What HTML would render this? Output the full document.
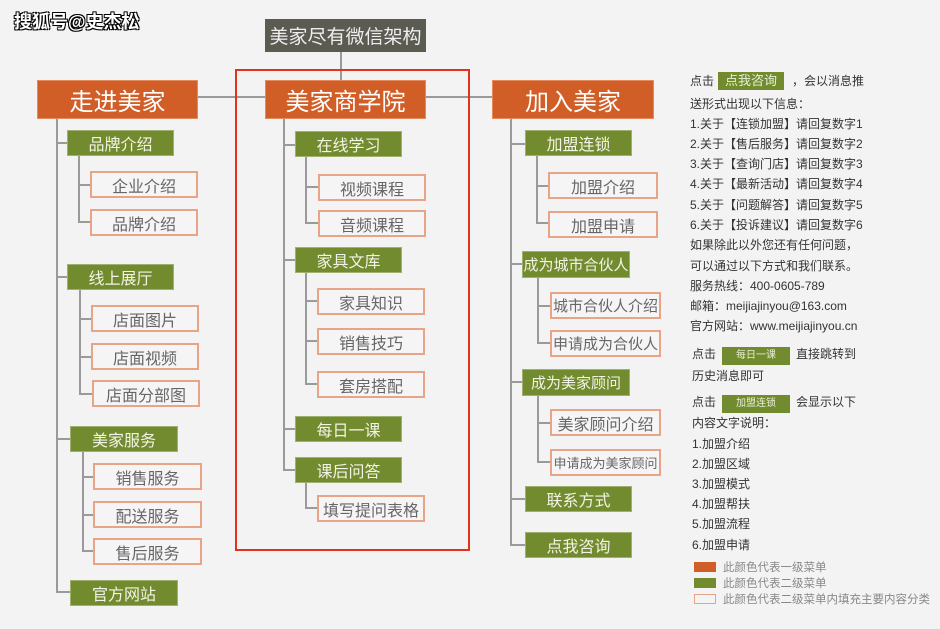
<!DOCTYPE html>
<html><head><meta charset="utf-8"><style>
*{margin:0;padding:0;box-sizing:border-box}
body{width:940px;height:629px;background:#f3f3f3;position:relative;overflow:hidden;font-family:"Liberation Sans","Noto Sans CJK SC",sans-serif}
.b{position:absolute;display:flex;align-items:center;justify-content:center;white-space:nowrap}
.t{background:#5b5b52;color:#eee;font-size:19px}
.o{background:#d15e27;color:#fff;font-size:24px;border:1px solid #e58a5c}
.g{background:#728b2e;color:#f3f3e6;font-size:16px;border:1px solid #a0b070}
.s{background:#f5f5f5;color:#666;font-size:16px;border:2px solid #e8a486}
.l{position:absolute;background:#9a9a9a}
.r{position:absolute;font-size:12px;color:#333;white-space:nowrap}
.ib{display:inline-block;background:#728b2e;color:#e8eed8;padding:0 7px;margin:0 4px;line-height:18px}
</style></head><body>
<div style="position:absolute;left:14px;top:8px;font-size:18px;font-weight:bold;color:#fff;text-shadow:1px 1px 0 #000,-1px -1px 0 #000,1px -1px 0 #000,-1px 1px 0 #000">搜狐号@史杰松</div>

<div class="l" style="left:340px;top:52px;width:2px;height:28px"></div>
<div class="l" style="left:198px;top:96px;width:294px;height:2px"></div>
<div style="position:absolute;left:235px;top:69px;width:235px;height:482px;border:2px solid #e0321c"></div>

<div class="b t" style="left:265px;top:19px;width:161px;height:33px">美家尽有微信架构</div>
<div class="b o" style="left:37px;top:80px;width:161px;height:39px">走进美家</div>
<div class="b o" style="left:265px;top:80px;width:161px;height:39px">美家商学院</div>
<div class="b o" style="left:492px;top:80px;width:162px;height:39px">加入美家</div>

<div class="l" style="left:56px;top:119px;width:2px;height:474px"></div>
<div class="l" style="left:56px;top:142px;width:12px;height:2px"></div>
<div class="l" style="left:56px;top:276px;width:12px;height:2px"></div>
<div class="l" style="left:56px;top:438px;width:14px;height:2px"></div>
<div class="l" style="left:56px;top:591px;width:14px;height:2px"></div>
<div class="b g" style="left:67px;top:130px;width:107px;height:26px">品牌介绍</div>
<div class="l" style="left:78px;top:156px;width:2px;height:67px"></div>
<div class="l" style="left:78px;top:184px;width:12px;height:2px"></div>
<div class="l" style="left:78px;top:221px;width:12px;height:2px"></div>
<div class="b s" style="left:90px;top:171px;width:108px;height:27px">企业介绍</div>
<div class="b s" style="left:90px;top:209px;width:108px;height:27px">品牌介绍</div>

<div class="b g" style="left:67px;top:264px;width:107px;height:26px">线上展厅</div>
<div class="l" style="left:79px;top:290px;width:2px;height:104px"></div>
<div class="l" style="left:79px;top:318px;width:14px;height:2px"></div>
<div class="l" style="left:79px;top:356px;width:14px;height:2px"></div>
<div class="l" style="left:79px;top:393px;width:14px;height:2px"></div>
<div class="b s" style="left:91px;top:305px;width:108px;height:27px">店面图片</div>
<div class="b s" style="left:91px;top:343px;width:108px;height:27px">店面视频</div>
<div class="b s" style="left:92px;top:380px;width:108px;height:27px">店面分部图</div>

<div class="b g" style="left:70px;top:426px;width:108px;height:26px">美家服务</div>
<div class="l" style="left:82px;top:452px;width:2px;height:99px"></div>
<div class="l" style="left:82px;top:476px;width:12px;height:2px"></div>
<div class="l" style="left:82px;top:514px;width:12px;height:2px"></div>
<div class="l" style="left:82px;top:550px;width:12px;height:2px"></div>
<div class="b s" style="left:93px;top:463px;width:109px;height:27px">销售服务</div>
<div class="b s" style="left:93px;top:501px;width:109px;height:27px">配送服务</div>
<div class="b s" style="left:93px;top:538px;width:109px;height:27px">售后服务</div>
<div class="b g" style="left:70px;top:580px;width:108px;height:26px">官方网站</div>

<div class="l" style="left:283px;top:119px;width:2px;height:352px"></div>
<div class="l" style="left:283px;top:144px;width:12px;height:2px"></div>
<div class="l" style="left:283px;top:259px;width:12px;height:2px"></div>
<div class="l" style="left:283px;top:428px;width:12px;height:2px"></div>
<div class="l" style="left:283px;top:469px;width:12px;height:2px"></div>
<div class="b g" style="left:295px;top:131px;width:107px;height:26px">在线学习</div>
<div class="l" style="left:305px;top:157px;width:2px;height:67px"></div>
<div class="l" style="left:305px;top:186px;width:13px;height:2px"></div>
<div class="l" style="left:305px;top:222px;width:13px;height:2px"></div>
<div class="b s" style="left:318px;top:174px;width:108px;height:27px">视频课程</div>
<div class="b s" style="left:318px;top:210px;width:108px;height:27px">音频课程</div>
<div class="b g" style="left:295px;top:247px;width:107px;height:26px">家具文库</div>
<div class="l" style="left:305px;top:273px;width:2px;height:112px"></div>
<div class="l" style="left:305px;top:300px;width:12px;height:2px"></div>
<div class="l" style="left:305px;top:340px;width:12px;height:2px"></div>
<div class="l" style="left:305px;top:383px;width:12px;height:2px"></div>
<div class="b s" style="left:317px;top:288px;width:108px;height:27px">家具知识</div>
<div class="b s" style="left:317px;top:328px;width:108px;height:27px">销售技巧</div>
<div class="b s" style="left:317px;top:371px;width:108px;height:27px">套房搭配</div>
<div class="b g" style="left:295px;top:416px;width:107px;height:26px">每日一课</div>
<div class="b g" style="left:295px;top:457px;width:107px;height:26px">课后问答</div>
<div class="l" style="left:305px;top:483px;width:2px;height:26px"></div>
<div class="l" style="left:305px;top:507px;width:13px;height:2px"></div>
<div class="b s" style="left:317px;top:495px;width:108px;height:27px">填写提问表格</div>

<div class="l" style="left:510px;top:119px;width:2px;height:427px"></div>
<div class="l" style="left:510px;top:143px;width:15px;height:2px"></div>
<div class="l" style="left:510px;top:263px;width:12px;height:2px"></div>
<div class="l" style="left:510px;top:381px;width:12px;height:2px"></div>
<div class="l" style="left:510px;top:498px;width:15px;height:2px"></div>
<div class="l" style="left:510px;top:544px;width:15px;height:2px"></div>
<div class="b g" style="left:525px;top:130px;width:107px;height:26px">加盟连锁</div>
<div class="l" style="left:536px;top:156px;width:2px;height:68px"></div>
<div class="l" style="left:536px;top:185px;width:12px;height:2px"></div>
<div class="l" style="left:536px;top:222px;width:12px;height:2px"></div>
<div class="b s" style="left:548px;top:172px;width:110px;height:27px">加盟介绍</div>
<div class="b s" style="left:548px;top:211px;width:110px;height:27px">加盟申请</div>
<div class="b g" style="left:522px;top:251px;width:108px;height:27px;font-size:15px">成为城市合伙人</div>
<div class="l" style="left:537px;top:278px;width:2px;height:66px"></div>
<div class="l" style="left:537px;top:305px;width:13px;height:2px"></div>
<div class="l" style="left:537px;top:342px;width:13px;height:2px"></div>
<div class="b s" style="left:550px;top:292px;width:111px;height:27px;font-size:15px">城市合伙人介绍</div>
<div class="b s" style="left:550px;top:330px;width:111px;height:27px;font-size:15px">申请成为合伙人</div>
<div class="b g" style="left:522px;top:369px;width:108px;height:27px;font-size:15px">成为美家顾问</div>
<div class="l" style="left:537px;top:396px;width:2px;height:67px"></div>
<div class="l" style="left:537px;top:422px;width:13px;height:2px"></div>
<div class="l" style="left:537px;top:461px;width:13px;height:2px"></div>
<div class="b s" style="left:550px;top:409px;width:111px;height:27px">美家顾问介绍</div>
<div class="b s" style="left:550px;top:449px;width:111px;height:27px;font-size:13px">申请成为美家顾问</div>
<div class="b g" style="left:525px;top:486px;width:107px;height:26px">联系方式</div>
<div class="b g" style="left:525px;top:532px;width:107px;height:26px">点我咨询</div>

<div class="r" style="left:690px;top:72px">点击<span class="ib" style="font-size:13px;margin:0 8px 0 4px">点我咨询</span>，会以消息推</div>
<div class="r" style="left:690px;top:95px">送形式出现以下信息：</div>
<div class="r" style="left:690px;top:115px">1.关于【连锁加盟】请回复数字1</div>
<div class="r" style="left:690px;top:135px">2.关于【售后服务】请回复数字2</div>
<div class="r" style="left:690px;top:155px">3.关于【查询门店】请回复数字3</div>
<div class="r" style="left:690px;top:175px">4.关于【最新活动】请回复数字4</div>
<div class="r" style="left:690px;top:196px">5.关于【问题解答】请回复数字5</div>
<div class="r" style="left:690px;top:216px">6.关于【投诉建议】请回复数字6</div>
<div class="r" style="left:690px;top:236px">如果除此以外您还有任何问题，</div>
<div class="r" style="left:690px;top:257px">可以通过以下方式和我们联系。</div>
<div class="r" style="left:690px;top:277px">服务热线：400-0605-789</div>
<div class="r" style="left:690px;top:297px">邮箱：meijiajinyou@163.com</div>
<div class="r" style="left:690px;top:317px">官方网站：www.meijiajinyou.cn</div>
<div class="r" style="left:692px;top:345px">点击<span class="ib" style="font-size:10px;padding:0 14px;margin:0 6px">每日一课</span>直接跳转到</div>
<div class="r" style="left:692px;top:367px">历史消息即可</div>
<div class="r" style="left:692px;top:393px">点击<span class="ib" style="font-size:10px;padding:0 14px;margin:0 6px">加盟连锁</span>会显示以下</div>
<div class="r" style="left:692px;top:414px">内容文字说明：</div>
<div class="r" style="left:692px;top:435px">1.加盟介绍</div>
<div class="r" style="left:692px;top:455px">2.加盟区域</div>
<div class="r" style="left:692px;top:475px">3.加盟模式</div>
<div class="r" style="left:692px;top:495px">4.加盟帮扶</div>
<div class="r" style="left:692px;top:515px">5.加盟流程</div>
<div class="r" style="left:692px;top:536px">6.加盟申请</div>
<div style="position:absolute;left:694px;top:562px;width:22px;height:10px;background:#d15e27"></div>
<div style="position:absolute;left:694px;top:578px;width:22px;height:10px;background:#728b2e"></div>
<div style="position:absolute;left:694px;top:594px;width:22px;height:10px;border:1px solid #e8a486"></div>
<div class="r" style="left:723px;top:559px;color:#888;font-size:11.5px">此颜色代表一级菜单</div>
<div class="r" style="left:723px;top:575px;color:#888;font-size:11.5px">此颜色代表二级菜单</div>
<div class="r" style="left:723px;top:591px;color:#888;font-size:11.5px">此颜色代表二级菜单内填充主要内容分类</div>
</body></html>
